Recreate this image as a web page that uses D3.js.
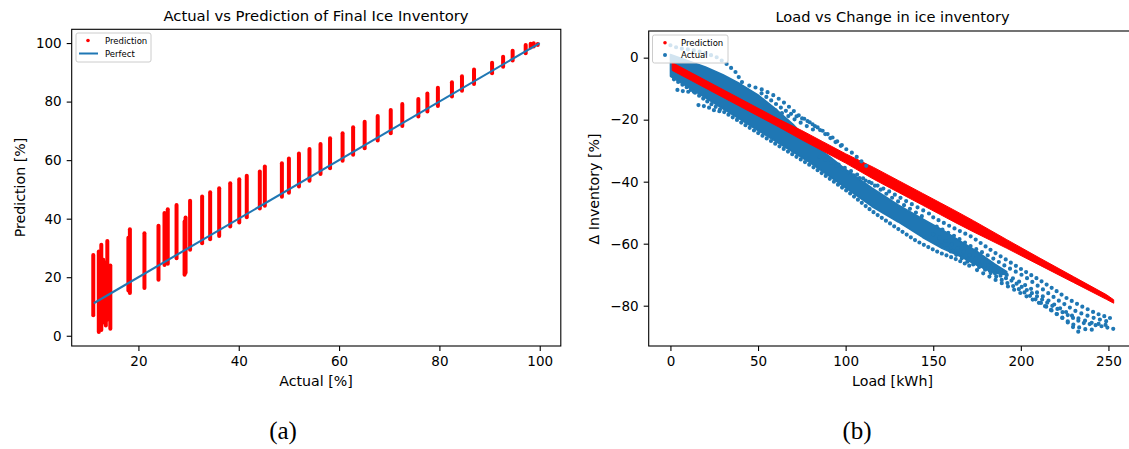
<!DOCTYPE html>
<html>
<head>
<meta charset="utf-8">
<script src="https://cdn.jsdelivr.net/npm/d3@7"></script>
<style>
  body { margin: 0; background: #fff; }
  text { font-family: "DejaVu Sans", sans-serif; fill: #000; }
</style>
</head>
<body>
<svg id="fig" width="1129" height="449"></svg>
<script>
// ---- panel (a): actual vs prediction, one column of predictions per actual value
const actualCols = [11.0, 12.1, 12.6, 13.0, 13.5, 13.8, 14.4, 18.0, 18.3, 21.2, 24.0, 25.2, 25.85, 27.6, 29.2, 29.4,
  30.3, 32.7, 34.3, 36.1, 38.3, 40.1, 41.6, 44.2, 45.2, 48.6, 50.0, 52.0, 54.1, 56.3, 58.2, 60.7, 62.8, 65.1,
  67.7, 70.3, 72.6, 75.8, 77.6, 79.7, 82.5, 84.5, 86.9, 90.5, 92.7, 94.6, 97.2, 98.2, 98.8, 99.6];
const predLow = [7.0, 1.3, 2.0, 4.5, 3.5, 5.5, 2.4, 15.5, 14.6, 16.3, 19.1, 24.2, 24.6, 26.5, 20.8, 21.5,
  29.4, 31.6, 33.0, 34.1, 37.3, 38.7, 40.5, 43.5, 44.4, 47.5, 48.9, 51.0, 53.0, 55.3, 57.2, 59.8, 61.8, 64.1,
  66.7, 69.2, 71.7, 74.9, 76.6, 78.5, 81.7, 83.7, 86.0, 89.7, 91.9, 94.0, 96.5, 98.5, 98.8, 99.3];
const predHigh = [27.6, 28.8, 31.1, 26.0, 25.0, 32.4, 24.0, 33.5, 36.4, 35.0, 37.6, 41.9, 43.2, 44.7, 39.0, 40.4,
  46.1, 47.6, 49.0, 50.4, 52.1, 53.5, 54.7, 56.1, 57.8, 58.9, 60.6, 62.3, 63.8, 65.5, 67.5, 69.2, 71.2, 73.1,
  75.1, 77.1, 79.2, 80.9, 82.8, 84.7, 86.6, 88.7, 91.0, 93.3, 95.3, 97.4, 99.3, 99.8, 99.9, 99.7];
const perfectLine = [11.1, 100];
const ticksA_x = [20, 40, 60, 80, 100];
const ticksA_y = [0, 20, 40, 60, 80, 100];

// ---- panel (b): load vs change in ice inventory
// prediction band: load, upper edge, lower edge
const predLoad   = [1, 12, 25, 38, 50, 62, 75, 87, 100, 116, 130, 144, 154, 163, 173, 192, 211, 230, 249, 253];
const predTop    = [-1.6, -4.9, -8.8, -12.7, -16.3, -19.9, -23.5, -27.1, -31.0, -35.4, -39.6, -43.8, -46.8, -49.5, -52.6, -58.7, -64.7, -70.6, -76.5, -78.1];
const predBottom = [-4.1, -7.4, -11.3, -15.2, -18.8, -22.4, -26.5, -30.1, -34.0, -39.2, -43.4, -47.6, -50.6, -53.3, -56.2, -61.5, -67.0, -72.5, -78.0, -79.2];
// dense core of the actual cloud: load, upper edge, lower edge
const denseLoad   = [0, 10, 20, 30, 40, 50, 60, 70, 80, 90, 100, 115, 130, 144, 155, 165, 175, 185, 192];
const denseTop    = [1.0, -1.0, -3.0, -5.5, -8.5, -12.0, -16.5, -21.5, -27.5, -31.5, -36.0, -42.0, -47.5, -52.0, -55.5, -59.0, -62.5, -66.5, -69.0];
const denseBottom = [-6.0, -9.5, -13.0, -16.5, -20.0, -23.5, -27.0, -30.5, -34.0, -38.0, -42.0, -48.0, -53.0, -58.0, -61.5, -64.0, -67.0, -69.5, -70.0];
// sparse rows of actual points (load, delta)
const actualRows = [
  [[0, 4], [5, 3], [12, 2.5], [20, 1.5], [27, 0], [32, -2], [37, -4.5], [41, -8]],
  [[45, -9], [53, -10.4], [60, -12.5], [66, -15], [73, -18.5], [80, -21], [88, -24.5], [96, -28], [104, -30.8], [112, -35]],
  [[52, -11.5], [58, -14], [64, -16.5], [70, -18.5], [77, -20], [84, -22.5], [92, -25.5], [100, -29.2]],
  [[60, -17], [68, -19], [76, -21.5], [84, -24]],
  [[85, -32], [97, -35.6], [106, -38.4], [118, -41.2], [125, -43.2], [135, -46.4], [144, -49.2], [150, -51]],
  [[96, -34.5], [106, -37.5], [116, -41], [126, -45], [136, -48.5], [146, -52]],
  [[150, -51.5], [160, -54.5], [172, -57.8], [184, -62.5], [192, -65.3], [201, -68.5], [210, -71.5], [217, -74], [226, -77.5], [234, -80], [243, -82.5], [251, -84]],
  [[152, -54.5], [162, -57.5], [172, -61], [182, -64], [192, -67.5], [202, -70.5], [212, -74.5], [222, -78.5], [232, -82], [242, -84], [252, -85.5]],
  [[150, -57], [160, -60], [170, -63.5], [180, -66.5], [190, -69.5], [200, -72.5], [210, -76], [220, -80], [230, -83.5], [240, -85.5], [252, -86.5]],
  [[155, -60.5], [165, -63.5], [175, -66.5], [185, -69.5], [195, -72], [205, -75.5], [215, -79], [225, -82.5], [235, -85.5], [245, -86.5], [253, -87.5]],
  [[160, -62.5], [170, -66], [180, -68.5], [190, -72], [200, -75], [210, -78.5], [220, -82.5], [228, -85.5], [235, -87.5], [242, -87.8]],
  [[175, -68.5], [185, -71.5], [195, -74.5], [205, -77.5], [215, -80.5], [225, -84.5], [233, -88.5]],
  [[2, -7], [12, -10.5], [22, -14.5], [32, -18], [42, -21.5], [52, -25], [62, -28.5], [72, -32], [82, -35.5], [92, -39.5], [102, -43.5], [115, -49.5], [128, -54.5], [140, -59], [152, -62.5], [163, -65], [172, -67.5]],
  [[4, -10.4], [9, -11], [14, -11]],
  [[16, -15.3], [21, -15.8], [25, -17], [30, -17.5]]
];
const rowGaps = [6, 6.5, 6, 7, 6.5, 7, 6, 6.5, 7, 6, 6.5, 7, 5, 5.5, 5.5];
const ticksB_x = [0, 50, 100, 150, 200, 250];
const ticksB_y = [0, -20, -40, -60, -80];

const RED = '#ff0000', BLUE = '#1f77b4';
const svg = d3.select('#fig');

// draws frame, ticks and labels for one panel
const drawAxes = (g, x, y, xt, yt, box) => {
  g.append('g').attr('transform', `translate(0,${box.bottom})`)
    .call(d3.axisBottom(x).tickValues(xt).tickSize(5).tickPadding(5).tickFormat(d3.format('d')))
    .call(a => a.select('.domain').remove());
  g.append('g').attr('transform', `translate(${box.left},0)`)
    .call(d3.axisLeft(y).tickValues(yt).tickSize(5).tickPadding(5).tickFormat(d => d3.format('d')(d).replace('-', '\u2212')))
    .call(a => a.select('.domain').remove());
  g.selectAll('.tick text').style('font-size', '13.5px').style('font-family', '"DejaVu Sans", sans-serif');
  g.selectAll('.tick line').attr('stroke', '#000').attr('stroke-width', 1.1);
  g.append('rect').attr('x', box.left).attr('y', box.top)
    .attr('width', box.right - box.left).attr('height', box.bottom - box.top)
    .attr('fill', 'none').attr('stroke', '#000').attr('stroke-width', 1.1);
};

// ---------- panel (a)
const boxA = { left: 71.7, right: 560.8, top: 29.3, bottom: 346 };
const xA = d3.scaleLinear().domain([6.7, 104.2]).range([boxA.left, boxA.right]);
const yA = d3.scaleLinear().domain([-3.5, 104.7]).range([boxA.bottom, boxA.top]);
const gA = svg.append('g');

gA.selectAll('line.col').data(actualCols).join('line')
  .attr('class', 'col')
  .attr('x1', d => xA(d)).attr('x2', d => xA(d))
  .attr('y1', (d, i) => yA(predLow[i])).attr('y2', (d, i) => yA(predHigh[i]))
  .attr('stroke', RED).attr('stroke-width', 4).attr('stroke-linecap', 'round');

gA.append('line')
  .attr('x1', xA(perfectLine[0])).attr('y1', yA(perfectLine[0]))
  .attr('x2', xA(perfectLine[1])).attr('y2', yA(perfectLine[1]))
  .attr('stroke', BLUE).attr('stroke-width', 2.1);

drawAxes(gA, xA, yA, ticksA_x, ticksA_y, boxA);

gA.append('text').attr('x', 316).attr('y', 20.7).attr('text-anchor', 'middle')
  .style('font-size', '14.8px').text('Actual vs Prediction of Final Ice Inventory');
gA.append('text').attr('x', 316).attr('y', 386).attr('text-anchor', 'middle')
  .style('font-size', '14.2px').text('Actual [%]');
gA.append('text').attr('transform', 'translate(25,187.5) rotate(-90)').attr('text-anchor', 'middle')
  .style('font-size', '14.2px').text('Prediction [%]');

// legend (a)
const legA = gA.append('g').attr('transform', 'translate(76,33)');
legA.append('rect').attr('width', 75).attr('height', 29).attr('rx', 2)
  .attr('fill', '#fff').attr('fill-opacity', 0.8).attr('stroke', '#ccc');
legA.append('circle').attr('cx', 12).attr('cy', 7.5).attr('r', 1.8).attr('fill', RED);
legA.append('text').attr('x', 29).attr('y', 10.5).style('font-size', '8.5px').text('Prediction');
legA.append('line').attr('x1', 3).attr('x2', 22).attr('y1', 20.5).attr('y2', 20.5)
  .attr('stroke', BLUE).attr('stroke-width', 2);
legA.append('text').attr('x', 29).attr('y', 23.5).style('font-size', '8.5px').text('Perfect');

svg.append('text').attr('x', 283).attr('y', 439).attr('text-anchor', 'middle')
  .style('font-size', '25px').style('font-family', '"Liberation Serif", serif').text('(a)');

// ---------- panel (b)
const boxB = { left: 648.7, right: 1136.3, top: 31, bottom: 346 };
const xB = d3.scaleLinear().domain([-12.4, 265.9]).range([boxB.left, boxB.right]);
const yB = d3.scaleLinear().domain([8.6, -93.0]).range([boxB.top, boxB.bottom]);
const gB = svg.append('g');

const denseArea = d3.area().x((d, i) => xB(denseLoad[i])).y0((d, i) => yB(denseTop[i])).y1((d, i) => yB(denseBottom[i]));
gB.append('path').datum(denseLoad).attr('d', denseArea)
  .attr('fill', BLUE).attr('stroke', BLUE).attr('stroke-width', 1.5).attr('stroke-linejoin', 'round');

const predArea = d3.area().x((d, i) => xB(predLoad[i])).y0((d, i) => yB(predTop[i])).y1((d, i) => yB(predBottom[i]));
gB.append('path').datum(predLoad).attr('d', predArea)
  .attr('fill', RED).attr('stroke', RED).attr('stroke-width', 1).attr('stroke-linejoin', 'round');

const rowLine = d3.line().x(d => xB(d[0])).y(d => yB(d[1]));
gB.selectAll('path.row').data(actualRows).join('path')
  .attr('class', 'row').attr('d', rowLine)
  .attr('fill', 'none').attr('stroke', BLUE).attr('stroke-width', 4.2)
  .attr('stroke-linecap', 'round').attr('stroke-dasharray', (d, i) => `0 ${rowGaps[i]}`);

drawAxes(gB, xB, yB, ticksB_x, ticksB_y, boxB);

gB.append('text').attr('x', 892.5).attr('y', 22).attr('text-anchor', 'middle')
  .style('font-size', '14.6px').text('Load vs Change in ice inventory');
gB.append('text').attr('x', 892.5).attr('y', 386).attr('text-anchor', 'middle')
  .style('font-size', '14.2px').text('Load [kWh]');
gB.append('text').attr('transform', 'translate(599,189) rotate(-90)').attr('text-anchor', 'middle')
  .style('font-size', '14.2px').text('\u0394 Inventory [%]');

const legB = gB.append('g').attr('transform', 'translate(652.5,35)');
legB.append('rect').attr('width', 75.5).attr('height', 28).attr('rx', 2)
  .attr('fill', '#fff').attr('fill-opacity', 0.8).attr('stroke', '#ccc');
legB.append('circle').attr('cx', 12.5).attr('cy', 7.7).attr('r', 1.8).attr('fill', RED);
legB.append('text').attr('x', 28.5).attr('y', 10.7).style('font-size', '8.5px').text('Prediction');
legB.append('circle').attr('cx', 12.5).attr('cy', 20).attr('r', 2).attr('fill', BLUE);
legB.append('text').attr('x', 28.5).attr('y', 23).style('font-size', '8.5px').text('Actual');

svg.append('text').attr('x', 857).attr('y', 439).attr('text-anchor', 'middle')
  .style('font-size', '25px').style('font-family', '"Liberation Serif", serif').text('(b)');
</script>
</body>
</html>
